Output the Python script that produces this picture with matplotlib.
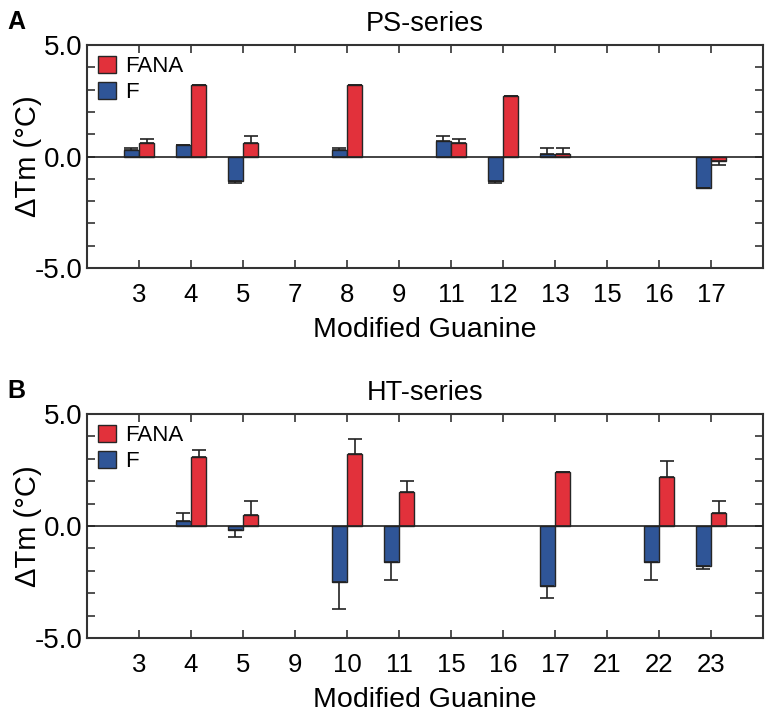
import numpy as np
import matplotlib.pyplot as plt
from matplotlib.patches import Patch
from matplotlib.ticker import MultipleLocator

plt.rcParams['font.family'] = ['Liberation Sans', 'DejaVu Sans']

# PS-series
ps_labels = ['3', '4', '5', '7', '8', '9', '11', '12', '13', '15', '16', '17']
ps_f = [0.3, 0.5, -1.1, np.nan, 0.3, np.nan, 0.7, -1.1, 0.1, np.nan, np.nan, -1.4]
ps_f_err = [0.1, 0.02, 0.1, np.nan, 0.1, np.nan, 0.2, 0.1, 0.3, np.nan, np.nan, 0.02]
ps_fana = [0.6, 3.2, 0.6, np.nan, 3.2, np.nan, 0.6, 2.7, 0.1, np.nan, np.nan, -0.2]
ps_fana_err = [0.2, 0.02, 0.3, np.nan, 0.02, np.nan, 0.2, 0.02, 0.3, np.nan, np.nan, 0.2]

# HT-series
ht_labels = ['3', '4', '5', '9', '10', '11', '15', '16', '17', '21', '22', '23']
ht_f = [np.nan, 0.2, -0.2, np.nan, -2.5, -1.6, np.nan, np.nan, -2.7, np.nan, -1.6, -1.8]
ht_f_err = [np.nan, 0.4, 0.3, np.nan, 1.2, 0.8, np.nan, np.nan, 0.5, np.nan, 0.8, 0.1]
ht_fana = [np.nan, 3.1, 0.5, np.nan, 3.2, 1.5, np.nan, np.nan, 2.4, np.nan, 2.2, 0.6]
ht_fana_err = [np.nan, 0.3, 0.6, np.nan, 0.7, 0.5, np.nan, np.nan, 0.02, np.nan, 0.7, 0.5]

red = '#e2313b'
blue = '#2f5597'
edge = '#262626'
width = 0.29


def one_sided(vals, errs):
    vals = np.asarray(vals, float)
    errs = np.asarray(errs, float)
    lower = np.where(vals < 0, errs, 0)
    upper = np.where(vals >= 0, errs, 0)
    return np.vstack([lower, upper])


def panel(ax, labels, f, f_err, fana, fana_err, title, letter):
    x = np.arange(len(labels))
    ekw = dict(ecolor='#222222', elinewidth=1.2, capsize=5, capthick=1.2)
    ax.bar(x - width / 2, f, width, color=blue, edgecolor=edge, linewidth=1,
           yerr=one_sided(f, f_err), error_kw=ekw, zorder=3)
    ax.bar(x + width / 2, fana, width, color=red, edgecolor=edge, linewidth=1,
           yerr=one_sided(fana, fana_err), error_kw=ekw, zorder=3)
    ax.axhline(0, color='#222222', lw=1.2, zorder=4)
    ax.set_xlim(-1.0, 12.0)
    ax.set_ylim(-5, 5)
    ax.set_xticks(x)
    ax.set_xticklabels(labels, fontsize=18.5)
    ax.set_yticks([-5, 0, 5])
    ax.set_yticklabels(['-5.0', '0.0', '5.0'], fontsize=20)
    ax.yaxis.set_minor_locator(MultipleLocator(1))
    ax.tick_params(axis='both', which='both', direction='in', top=True, right=True,
                   color='#333333', width=1.2)
    ax.tick_params(axis='both', which='major', length=6)
    ax.tick_params(axis='x', which='major', pad=11)
    ax.tick_params(axis='y', which='major', pad=3)
    ax.tick_params(axis='y', which='minor', length=6)
    for s in ax.spines.values():
        s.set_color('#333333')
        s.set_linewidth(1.5)
    ax.set_xlabel('Modified Guanine', fontsize=20.5, labelpad=7)
    ax.set_ylabel('ΔTm (°C)', fontsize=21)
    ax.yaxis.set_label_coords(-0.066, 0.5)
    ax.set_title(title, fontsize=19.5, pad=10)
    handles = [Patch(facecolor=red, edgecolor=edge, label='FANA'),
               Patch(facecolor=blue, edgecolor=edge, label='F')]
    ax.legend(handles=handles, loc='upper left', frameon=False, fontsize=16,
              handlelength=0.8, handleheight=0.8, handletextpad=0.4,
              labelspacing=0.2, borderaxespad=0.3, borderpad=0.2)
    ax.text(-0.118, 1.158, letter, transform=ax.transAxes, fontsize=18,
            fontweight='bold', va='top', ha='left')


fig = plt.figure(figsize=(7.71, 7.13), dpi=100)
ax1 = fig.add_axes([0.1128, 0.6241, 0.8768, 0.3128])
ax2 = fig.add_axes([0.1128, 0.1052, 0.8768, 0.3142])

panel(ax1, ps_labels, ps_f, ps_f_err, ps_fana, ps_fana_err, 'PS-series', 'A')
panel(ax2, ht_labels, ht_f, ht_f_err, ht_fana, ht_fana_err, 'HT-series', 'B')

plt.savefig('out.png', dpi=100)
